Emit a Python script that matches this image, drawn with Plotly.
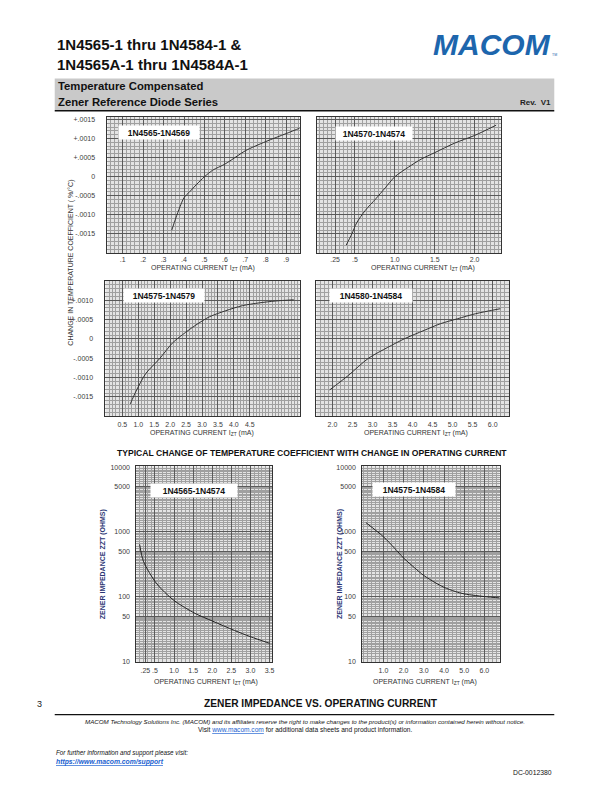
import plotly.graph_objects as go

# ---------------- data ----------------
tc1_current = [0.34, 0.36, 0.38, 0.40, 0.43, 0.46, 0.50, 0.54, 0.60, 0.66, 0.70, 0.80, 0.90, 0.975]
tc1_change = [-0.00140, -0.00108, -0.00079, -0.00055, -0.00038, -0.00021, 0.0, 0.00017,
              0.00033, 0.00054, 0.00068, 0.00092, 0.00113, 0.00129]

tc2_current = [0.39, 0.46, 0.52, 0.63, 0.76, 0.88, 1.0, 1.17, 1.33, 1.5, 1.75, 2.0, 2.27]
tc2_change = [-0.00179, -0.00150, -0.00121, -0.00088, -0.00058, -0.00029, 0.0, 0.00025,
              0.00046, 0.00063, 0.00088, 0.00108, 0.00135]

tc3_current = [0.75, 0.93, 1.24, 1.66, 2.08, 2.39, 2.81, 3.23, 3.75, 4.27, 4.79, 5.31, 5.88]
tc3_change = [-0.00168, -0.00135, -0.00089, -0.00052, -0.00010, 0.00011, 0.00036, 0.00057,
              0.00073, 0.00086, 0.00093, 0.00098, 0.00101]

tc4_current = [1.93, 2.39, 2.90, 3.38, 3.79, 4.29, 4.69, 5.12, 5.57, 6.19]
tc4_change = [-0.00132, -0.00095, -0.00050, -0.00022, 0.0, 0.00022, 0.00039, 0.00052, 0.00065, 0.00078]

zz1_current = [0.10, 0.20, 0.55, 1.0, 1.55, 2.0, 2.58, 3.0, 3.5]
zz1_ohms = [640, 350, 157, 87, 55, 42, 30, 24, 19]

zz2_current = [0.13, 1.0, 1.55, 2.0, 2.55, 3.0, 3.55, 4.0, 4.55, 5.0, 5.55, 6.0, 6.83]
zz2_ohms = [1390, 840, 560, 394, 277, 212, 165, 139, 120, 110, 104, 100, 95]

tc_tick_vals = [0.0015, 0.0010, 0.0005, 0.0, -0.0005, -0.0010, -0.0015]
tc_tick_text = ["+.0015", "+.0010", "+.0005", "0", "-.0005", "-.0010", "-.0015"]

x1_vals = [0.1, 0.2, 0.3, 0.4, 0.5, 0.6, 0.7, 0.8, 0.9]
x1_text = [".1", ".2", ".3", ".4", ".5", ".6", ".7", ".8", ".9"]
x2_vals = [0.25, 0.5, 1.0, 1.5, 2.0]
x2_text = [".25", ".5", "1.0", "1.5", "2.0"]
x3_vals = [0.5, 1.0, 1.5, 2.0, 2.5, 3.0, 3.5, 4.0, 4.5]
x3_text = ["0.5", "1.0", "1.5", "2.0", "2.5", "3.0", "3.5", "4.0", "4.5"]
x4_vals = [2.0, 2.5, 3.0, 3.5, 4.0, 4.5, 5.0, 5.5, 6.0]
x4_text = ["2.0", "2.5", "3.0", "3.5", "4.0", "4.5", "5.0", "5.5", "6.0"]
x5_vals = [0.25, 0.5, 1.0, 1.5, 2.0, 2.5, 3.0, 3.5]
x5_text = [".25", ".5", "1.0", "1.5", "2.0", "2.5", "3.0", "3.5"]
x6_vals = [1.0, 2.0, 3.0, 4.0, 5.0, 6.0]
x6_text = ["1.0", "2.0", "3.0", "4.0", "5.0", "6.0"]
zz_tick_vals = [10, 50, 100, 500, 1000, 5000, 10000]
zz_tick_text = ["10", "50", "100", "500", "1000", "5000", "10000"]

labels = ["1N4565-1N4569", "1N4570-1N4574", "1N4575-1N4579", "1N4580-1N4584",
          "1N4565-1N4574", "1N4575-1N4584"]

# ---------------- page geometry helpers ----------------
W, H = 612, 792


def fx(p):
    return p / W


def fy(p):
    return 1 - p / H


FONT = "Liberation Sans, Arial, sans-serif"
MAJ = "#5a5a5a"
MIN = "#a0a0a0"
FRAME = "#333333"
TICKF = dict(family=FONT, size=7, color="#3c3c3c")

# (left, right, top, bottom) in pixels
boxes = [
    (108, 301, 115, 252),
    (319, 503, 115, 252),
    (106, 301, 280, 416),
    (318, 512, 280, 416),
    (137, 273, 467, 664),
    (364, 502, 467, 664),
]


def base_axis(box_dom):
    return dict(domain=box_dom, showline=True, mirror=True, linecolor=FRAME, linewidth=1,
                zeroline=False, ticks="", showgrid=True, gridcolor=MAJ, gridwidth=0.8,
                tickfont=TICKF, fixedrange=True, tickangle=0)


fig = go.Figure()

series = [
    (tc1_current, tc1_change), (tc2_current, tc2_change),
    (tc3_current, tc3_change), (tc4_current, tc4_change),
    (zz1_current, zz1_ohms), (zz2_current, zz2_ohms),
]
for i, (xs, ys) in enumerate(series):
    sfx = "" if i == 0 else str(i + 1)
    fig.add_trace(go.Scatter(
        x=xs, y=ys, mode="lines", line=dict(color="#222222" if i >= 4 else "#333333",
                                             width=1.0, shape="spline", smoothing=0.8),
        xaxis="x" + sfx, yaxis="y" + sfx, showlegend=False, hoverinfo="skip"))

x_ranges = [(0.0255, 0.965), (0.029, 2.325), (-0.03, 6.06), (1.60, 6.42), (0.013, 3.555), (-0.05, 6.75)]
x_ticks = [(x1_vals, x1_text), (x2_vals, x2_text), (x3_vals, x3_text), (x4_vals, x4_text),
           (x5_vals, x5_text), (x6_vals, x6_text)]
x_minor = [0.02, 0.05, 0.1, 0.1, 0.1, 0.2]
x_standoff = [0, 0, 2, 2, 2, 2]
y_ranges = [(-0.002, 0.00156), (-0.002, 0.00156), (-0.00199, 0.0015), (-0.00199, 0.0015)]

# dense log-paper grid positions (styling only)
log_minor = []
for dec in (10, 100, 1000):
    m = 1.0
    while m < 10 - 1e-9:
        log_minor.append(round(m * dec, 6))
        m += 0.1 if m < 2 - 1e-9 else (0.2 if m < 5 - 1e-9 else 0.5)

layout_axes = {}
for i in range(6):
    l, r, t, b = boxes[i]
    sfx = "" if i == 0 else str(i + 1)
    xa = base_axis([fx(l), fx(r)])
    xa.update(range=list(x_ranges[i]), tickmode="array", tickvals=x_ticks[i][0],
              ticktext=x_ticks[i][1], ticklabelstandoff=x_standoff[i],
              anchor="y" + sfx,
              minor=dict(dtick=x_minor[i], tick0=0, showgrid=True, gridcolor=MIN, gridwidth=0.5))
    ya = base_axis([fy(b), fy(t)])
    ya.update(anchor="x" + sfx)
    if i < 4:
        vals = tc_tick_vals if i != 2 else tc_tick_vals[1:]
        text = tc_tick_text if i != 2 else tc_tick_text[1:]
        ya.update(range=list(y_ranges[i]), tickmode="array", tickvals=vals, ticktext=text,
                  showticklabels=(i in (0, 2)), ticklabelstandoff=10,
                  minor=dict(dtick=0.0001, tick0=0, showgrid=True, gridcolor=MIN, gridwidth=0.5))
    else:
        ya.update(type="log", range=[0.99, 4.01], tickmode="array", tickvals=zz_tick_vals,
                  ticktext=zz_tick_text, ticklabelstandoff=4,
                  minor=dict(tickmode="array", tickvals=log_minor, showgrid=True,
                             gridcolor=MIN, gridwidth=0.5))
    layout_axes["xaxis" + sfx] = xa
    layout_axes["yaxis" + sfx] = ya

ann = []


def text(x, y, s, size=7, color="#222", family=FONT, xanchor="center", yanchor="middle",
         angle=0, **kw):
    d = dict(x=fx(x), y=fy(y), xref="paper", yref="paper", text=s, showarrow=False,
             font=dict(family=family, size=size, color=color), xanchor=xanchor,
             yanchor=yanchor, textangle=angle)
    d.update(kw)
    ann.append(d)


# chart labels in white boxes
label_pos = [(160, 130, 80), (376, 131, 76), (165, 295, 80), (373, 295, 82),
             (195, 491, 86), (416, 490, 82)]
for (cx, cy, w), s in zip(label_pos, labels):
    text(cx, cy, "<b>" + s + "</b>", size=8.5, color="#111", bgcolor="white",
         width=w, height=13, borderpad=0)

# x axis titles
xt = "OPERATING CURRENT I<sub>ZT</sub> (mA)"
for (cx, cy) in [(204, 267), (425, 267), (203, 433), (418, 433), (207, 684), (427, 684)]:
    text(cx, cy, xt, size=7, color="#333")

# y axis titles
text(71, 262, "CHANGE IN TEMPERATURE COEFFICIENT ( %/°C)", size=7, color="#333", angle=-90)
text(103, 565, "<b>ZENER IMPEDANCE ZZT (OHMS)</b>", size=7, color="#2b3574", angle=-90)
text(341, 565, "<b>ZENER IMPEDANCE ZZT (OHMS)</b>", size=7, color="#2b3574", angle=-90)

# section captions
text(314, 453, "<b>TYPICAL CHANGE OF TEMPERATURE COEFFICIENT WITH CHANGE IN OPERATING CURRENT</b>",
     size=8.6, color="#111")
text(323, 706, "<b>ZENER IMPEDANCE VS. OPERATING CURRENT</b>", size=10.2, color="#111")
text(40, 706, "3", size=9, color="#222")

# header
text(55, 42, "<b>1N4565-1 thru 1N4584-1 &</b>", size=15, color="#111", xanchor="left")
text(55, 62, "<b>1N4565A-1 thru 1N4584A-1</b>", size=15, color="#111", xanchor="left")
text(494, 42, "<b><i>MACOM</i></b>", size=30, color="#1d66ad")
text(553, 52, "TM", size=3.5, color="#1d66ad", xanchor="left")
text(56, 84, "<b>Temperature Compensated</b>", size=11.3, color="#111", xanchor="left")
text(56, 100, "<b>Zener Reference Diode Series</b>", size=11.3, color="#111", xanchor="left")
text(556, 100, "<b>Rev.  V1</b>", size=8, color="#222", xanchor="right")

# footer
text(306, 724, "<i>MACOM Technology Solutions Inc. (MACOM) and its affiliates reserve the right to make "
     "changes to the product(s) or information contained herein without notice.</i>",
     size=6.2, color="#111")
text(306, 733, "Visit <span style='color:#1a5fd0'><u>www.macom.com</u></span> for additional data sheets "
     "and product information.", size=6.6, color="#111")
text(54, 756, "<i>For further information and support please visit:</i>", size=6.3, color="#111",
     xanchor="left")
text(54, 765, "<b><i><u>https://www.macom.com/support</u></i></b>", size=6.8, color="#1a5fd0",
     xanchor="left")
text(557, 775, "DC-0012380", size=6.8, color="#111", xanchor="right")

shapes = [
    dict(type="rect", xref="paper", yref="paper", x0=fx(55), x1=fx(557), y0=fy(108), y1=fy(76),
         fillcolor="#c9c9c9", line=dict(width=0), layer="below"),
    dict(type="line", xref="paper", yref="paper", x0=fx(55), x1=fx(557), y0=fy(108.5), y1=fy(108.5),
         line=dict(color="#111", width=1.5)),
    dict(type="line", xref="paper", yref="paper", x0=fx(55), x1=fx(557), y0=fy(717), y1=fy(717),
         line=dict(color="#111", width=1.2)),
]

fig.update_layout(
    width=W, height=H, autosize=False,
    margin=dict(l=0, r=0, t=0, b=0),
    paper_bgcolor="white", plot_bgcolor="#e4e4e4",
    showlegend=False,
    annotations=ann, shapes=shapes,
    **layout_axes,
)

fig.write_html("out.html", config={"displayModeBar": False},
               post_script="document.body.style.margin='0px';")
